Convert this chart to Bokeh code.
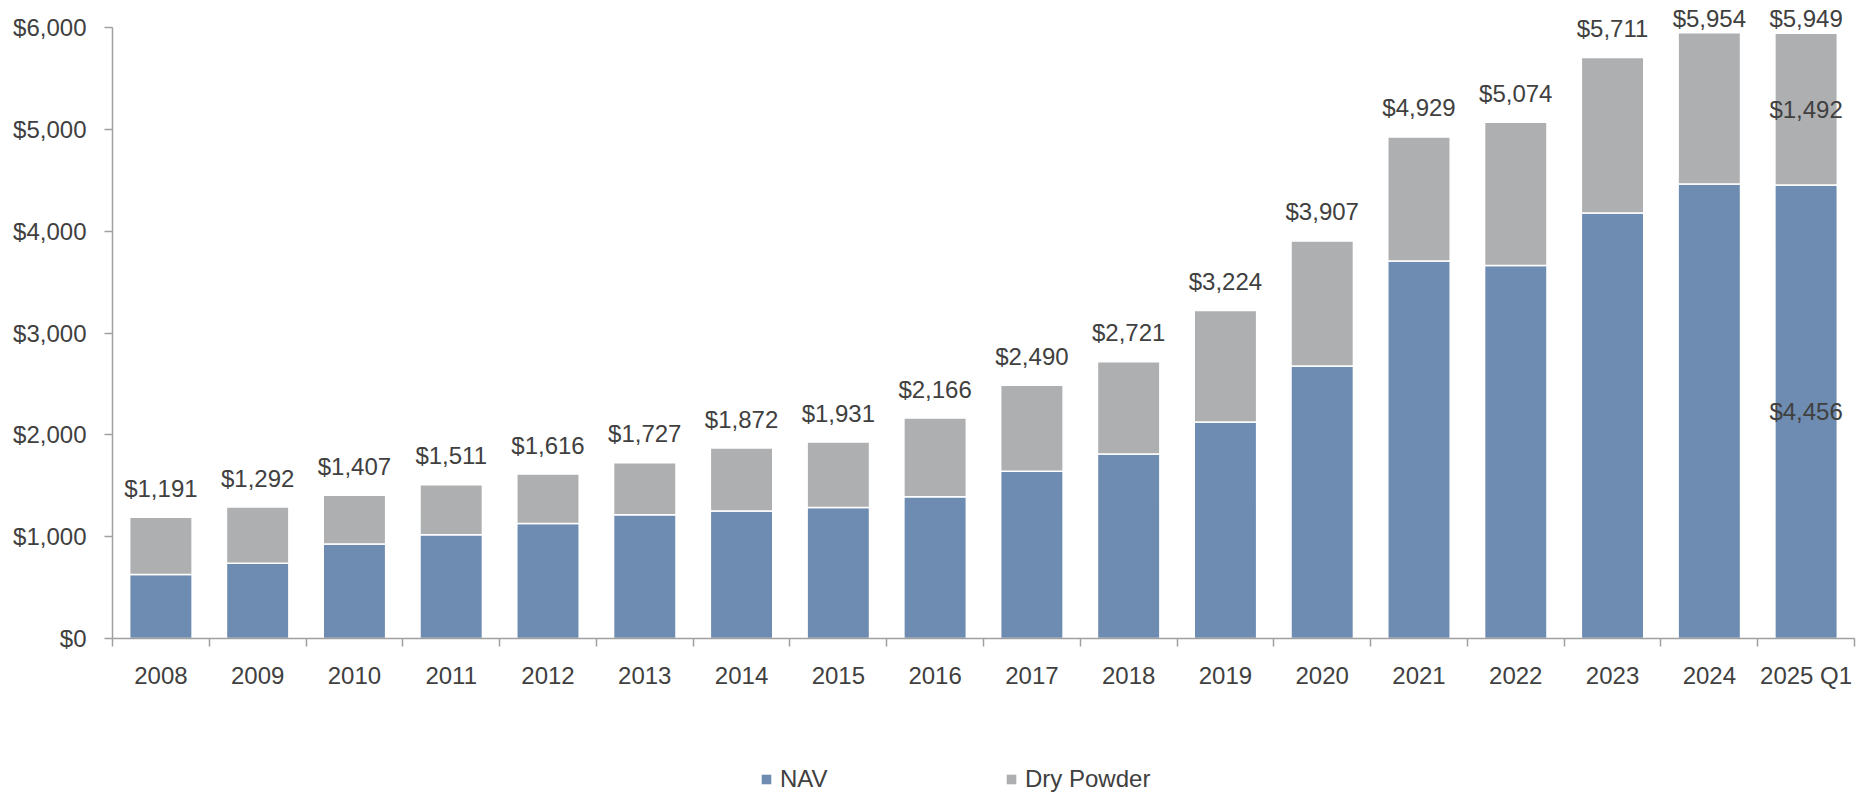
from bokeh.plotting import figure
from bokeh.layouts import column
from bokeh.models import (ColumnDataSource, FixedTicker, Range1d, Legend, LegendItem,
                          LabelSet, NumeralTickFormatter)
from bokeh.core.properties import value
from bokeh.embed import file_html
from bokeh.resources import INLINE
import numpy as np

categories = ["2008", "2009", "2010", "2011", "2012", "2013", "2014", "2015", "2016",
              "2017", "2018", "2019", "2020", "2021", "2022", "2023", "2024", "2025 Q1"]
nav = [628, 740, 928, 1020, 1130, 1215, 1252, 1288, 1394, 1643, 1812, 2127,
       2678, 3709, 3666, 4182, 4466, 4456]
total = [1191, 1292, 1407, 1511, 1616, 1727, 1872, 1931, 2166, 2490, 2721, 3224,
         3907, 4929, 5074, 5711, 5954, 5949]
y_ticks = [0, 1000, 2000, 3000, 4000, 5000, 6000]
seg_labels_last = ["$1,492", "$4,456"]
legend_labels = ["NAV", "Dry Powder"]

FONT = "Liberation Sans"
FS = "24px"
TXT = "#404040"
AX = "#A0A0A0"
BLUE = "#6E8CB1"
GRAY = "#AEAFB1"

W = 1867
H_CHART = 740
H_LEG = 54
LEFT = 112

n = len(categories)
xc = np.arange(n) + 0.5
nav_a = np.array(nav, dtype=float)
tot_a = np.array(total, dtype=float)

src = ColumnDataSource(dict(x=xc, nav=nav_a, tot=tot_a,
                            lab=[f"${v:,}" for v in total],
                            laby=np.minimum(tot_a + 285, 6090)))

p = figure(width=W, height=H_CHART, output_backend="svg", toolbar_location=None,
           x_range=Range1d(0, n), y_range=Range1d(0, 6270),
           min_border_left=LEFT, min_border_right=13, min_border_top=0,
           min_border_bottom=H_CHART - 638)
p.xgrid.visible = False
p.ygrid.visible = False
p.outline_line_color = None
p.background_fill_color = "white"
p.border_fill_color = "white"

r_nav = p.vbar(x="x", top="nav", bottom=0, width=0.645, source=src,
               fill_color=BLUE, line_color="white", line_width=1.5)
r_dry = p.vbar(x="x", top="tot", bottom="nav", width=0.645, source=src,
               fill_color=GRAY, line_color="white", line_width=1.5)

p.add_layout(LabelSet(x="x", y="laby", text="lab", source=src, text_align="center",
                      text_baseline="middle", text_font=value(FONT), text_font_size=FS,
                      text_color=TXT))

last = n - 1
seg_src = ColumnDataSource(dict(x=[xc[last], xc[last]],
                                y=[(tot_a[last] + nav_a[last]) / 2, nav_a[last] / 2],
                                t=seg_labels_last))
p.add_layout(LabelSet(x="x", y="y", text="t", source=seg_src, text_align="center",
                      text_baseline="middle", text_font=value(FONT), text_font_size=FS,
                      text_color=TXT))

# y axis
ya = p.yaxis[0]
ya.ticker = FixedTicker(ticks=y_ticks)
ya.bounds = (0, 6000)
ya.formatter = NumeralTickFormatter(format="$0,0")
ya.major_tick_out = 8
ya.major_tick_in = 0
ya.minor_tick_out = 0
ya.minor_tick_in = 0
ya.axis_line_color = AX
ya.axis_line_width = 1.5
ya.major_tick_line_color = AX
ya.major_tick_line_width = 1.5
ya.major_label_standoff = 18
ya.major_label_text_font = FONT
ya.major_label_text_font_size = FS
ya.major_label_text_color = TXT

# x axis
xa = p.xaxis[0]
xa.ticker = FixedTicker(ticks=list(xc), minor_ticks=list(range(n + 1)))
xa.major_label_overrides = {float(x): c for x, c in zip(xc, categories)}
xa.major_tick_out = 0
xa.major_tick_in = 0
xa.minor_tick_out = 8
xa.minor_tick_in = 0
xa.minor_tick_line_color = AX
xa.minor_tick_line_width = 1.5
xa.axis_line_color = AX
xa.axis_line_width = 1.5
xa.major_label_standoff = 15
xa.major_label_text_font = FONT
xa.major_label_text_font_size = FS
xa.major_label_text_color = TXT

# legend strip
pl = figure(width=W, height=H_LEG, output_backend="svg", toolbar_location=None,
            x_range=Range1d(0, 1), y_range=Range1d(0, 1),
            x_axis_type=None, y_axis_type=None, min_border=0)
pl.xgrid.visible = False
pl.ygrid.visible = False
pl.outline_line_color = None
# zero-height proxy bars, only used to draw the legend swatches
l_nav = pl.vbar(x=[0.5], top=[0], bottom=[0], width=0.01, fill_color=BLUE, line_color=None)
l_dry = pl.vbar(x=[0.5], top=[0], bottom=[0], width=0.01, fill_color=GRAY, line_color=None)


def mk_legend(label, rend, loc):
    return Legend(items=[LegendItem(label=label, renderers=[rend])], location=loc,
                  orientation="horizontal", glyph_width=12, glyph_height=12,
                  label_standoff=8, padding=0, margin=0, spacing=0,
                  label_height=24, border_line_color=None, background_fill_alpha=0,
                  label_text_font=FONT, label_text_font_size=FS, label_text_color=TXT)


pl.add_layout(mk_legend(legend_labels[0], l_nav, (760 - LEFT, 1)))
pl.add_layout(mk_legend(legend_labels[1], l_dry, (1005 - LEFT, 1)))

layout = column(p, pl, spacing=0)
open("out.html", "w").write(file_html(layout, INLINE))
